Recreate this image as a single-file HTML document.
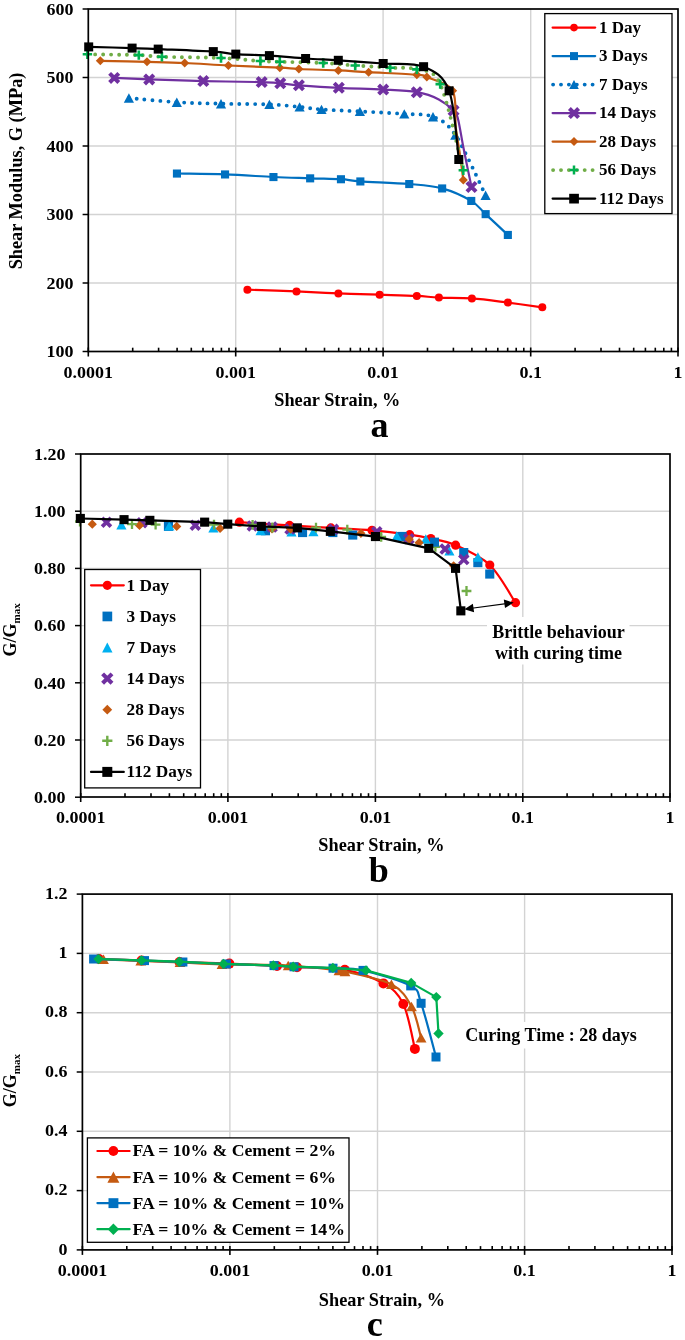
<!DOCTYPE html>
<html><head><meta charset="utf-8"><title>chart</title>
<style>html,body{margin:0;padding:0;background:#fff;}svg{display:block;will-change:transform;}</style></head><body>
<svg width="685" height="1340" viewBox="0 0 685 1340">
<rect width="685" height="1340" fill="#fff"/>
<line x1="235.7" y1="9" x2="235.7" y2="351.5" stroke="#d3d3d3" stroke-width="1.4"/>
<line x1="383.1" y1="9" x2="383.1" y2="351.5" stroke="#d3d3d3" stroke-width="1.4"/>
<line x1="530.7" y1="9" x2="530.7" y2="351.5" stroke="#d3d3d3" stroke-width="1.4"/>
<line x1="88.3" y1="77.5" x2="678" y2="77.5" stroke="#d3d3d3" stroke-width="1.4"/>
<line x1="88.3" y1="146" x2="678" y2="146" stroke="#d3d3d3" stroke-width="1.4"/>
<line x1="88.3" y1="214.5" x2="678" y2="214.5" stroke="#d3d3d3" stroke-width="1.4"/>
<line x1="88.3" y1="283" x2="678" y2="283" stroke="#d3d3d3" stroke-width="1.4"/>
<path d="M247.4,289.7 C255.6,290 281.3,290.8 296.5,291.4 C311.7,292 324.5,292.8 338.4,293.4 C352.2,293.9 366.5,294.3 379.6,294.7 C392.7,295.1 406.9,295.4 416.8,295.9 C426.7,296.4 429.7,297.2 438.9,297.6 C448.1,298 460.4,297.6 471.9,298.4 C483.4,299.2 496.2,301.1 507.9,302.6 C519.6,304.1 536.6,306.5 542.3,307.3" fill="none" stroke="#ff0000" stroke-width="2.2" stroke-linejoin="round" stroke-linecap="round"/>
<circle cx="247.4" cy="289.7" r="4" fill="#ff0000"/>
<circle cx="296.5" cy="291.4" r="4" fill="#ff0000"/>
<circle cx="338.4" cy="293.4" r="4" fill="#ff0000"/>
<circle cx="379.6" cy="294.7" r="4" fill="#ff0000"/>
<circle cx="416.8" cy="295.9" r="4" fill="#ff0000"/>
<circle cx="438.9" cy="297.6" r="4" fill="#ff0000"/>
<circle cx="471.9" cy="298.4" r="4" fill="#ff0000"/>
<circle cx="507.9" cy="302.6" r="4" fill="#ff0000"/>
<circle cx="542.3" cy="307.3" r="4" fill="#ff0000"/>
<path d="M176.9,173.5 C184.9,173.7 208.9,173.8 225,174.4 C241.1,175 259.2,176.3 273.4,177 C287.6,177.7 298.9,177.9 310.1,178.3 C321.4,178.7 332.5,178.7 340.9,179.2 C349.3,179.7 348.9,180.6 360.3,181.4 C371.7,182.2 395.6,182.8 409.2,184 C422.8,185.2 431.8,185.6 442.1,188.4 C452.4,191.2 463.9,196.6 471.2,200.9 C478.4,205.2 479.5,208.4 485.6,214.1 C491.7,219.8 504.1,231.4 507.8,234.9" fill="none" stroke="#0070c0" stroke-width="2.2" stroke-linejoin="round" stroke-linecap="round"/>
<rect x="172.9" y="169.5" width="8.1" height="8.1" fill="#0070c0"/>
<rect x="221" y="170.4" width="8.1" height="8.1" fill="#0070c0"/>
<rect x="269.4" y="173" width="8.1" height="8.1" fill="#0070c0"/>
<rect x="306.1" y="174.3" width="8.1" height="8.1" fill="#0070c0"/>
<rect x="336.9" y="175.2" width="8.1" height="8.1" fill="#0070c0"/>
<rect x="356.3" y="177.4" width="8.1" height="8.1" fill="#0070c0"/>
<rect x="405.2" y="180" width="8.1" height="8.1" fill="#0070c0"/>
<rect x="438.1" y="184.4" width="8.1" height="8.1" fill="#0070c0"/>
<rect x="467.2" y="196.9" width="8.1" height="8.1" fill="#0070c0"/>
<rect x="481.6" y="210.1" width="8.1" height="8.1" fill="#0070c0"/>
<rect x="503.8" y="230.9" width="8.1" height="8.1" fill="#0070c0"/>
<path d="M128.9,98 C136.9,98.7 161.5,101.2 176.8,102.2 C192.2,103.2 205.6,103.3 221,103.7 C236.4,104.1 256.3,103.9 269.4,104.4 C282.5,104.9 290.9,106.1 299.6,106.9 C308.3,107.7 311.4,108.7 321.5,109.4 C331.6,110.2 346.1,110.7 359.9,111.4 C373.7,112.2 392.1,113 404.3,113.9 C416.5,114.8 424.5,113.3 433,116.8 C441.5,120.3 446.5,121.9 455.3,135 C464.1,148.1 480.6,185.2 485.6,195.2" fill="none" stroke="#0070c0" stroke-width="3.9" stroke-linejoin="round" stroke-dasharray="0 7.9" stroke-linecap="round"/>
<path d="M128.9,93.3 L134,102.7 L123.8,102.7 Z" fill="#0070c0"/>
<path d="M176.8,97.5 L181.9,106.9 L171.7,106.9 Z" fill="#0070c0"/>
<path d="M221,99 L226.1,108.4 L215.9,108.4 Z" fill="#0070c0"/>
<path d="M269.4,99.7 L274.5,109.1 L264.3,109.1 Z" fill="#0070c0"/>
<path d="M299.6,102.2 L304.7,111.6 L294.5,111.6 Z" fill="#0070c0"/>
<path d="M321.5,104.7 L326.6,114.1 L316.4,114.1 Z" fill="#0070c0"/>
<path d="M359.9,106.7 L365,116.1 L354.8,116.1 Z" fill="#0070c0"/>
<path d="M404.3,109.2 L409.4,118.6 L399.2,118.6 Z" fill="#0070c0"/>
<path d="M433,112.1 L438.1,121.5 L427.9,121.5 Z" fill="#0070c0"/>
<path d="M455.3,130.3 L460.4,139.7 L450.2,139.7 Z" fill="#0070c0"/>
<path d="M485.6,190.5 L490.7,199.9 L480.5,199.9 Z" fill="#0070c0"/>
<path d="M114.2,77.9 C120,78.2 134.3,78.9 149.2,79.4 C164,79.9 184.6,80.6 203.3,81.1 C222.1,81.5 248.9,81.7 261.7,82.1 C274.5,82.5 274.1,82.8 280.3,83.3 C286.5,83.8 289.1,84.5 298.9,85.3 C308.6,86 324.8,87.1 338.8,87.8 C352.9,88.5 370.2,88.9 383.2,89.6 C396.2,90.3 407.5,90.6 416.8,92.2 C426.1,93.8 432.7,96.3 438.8,99.4 C444.9,102.5 450.4,107.3 453.6,110.6 C456.8,113.9 456.3,112.6 458,119 C459.7,125.4 461.4,137.7 463.7,149 C465.9,160.3 470.2,180.7 471.5,187" fill="none" stroke="#7030a0" stroke-width="2.2" stroke-linejoin="round" stroke-linecap="round"/>
<path d="M109.6,73.3 L118.8,82.5 M109.6,82.5 L118.8,73.3" stroke="#7030a0" stroke-width="4" fill="none"/>
<path d="M144.6,74.8 L153.8,84 M144.6,84 L153.8,74.8" stroke="#7030a0" stroke-width="4" fill="none"/>
<path d="M198.7,76.5 L207.9,85.7 M198.7,85.7 L207.9,76.5" stroke="#7030a0" stroke-width="4" fill="none"/>
<path d="M257.1,77.5 L266.3,86.7 M257.1,86.7 L266.3,77.5" stroke="#7030a0" stroke-width="4" fill="none"/>
<path d="M275.7,78.7 L284.9,87.9 M275.7,87.9 L284.9,78.7" stroke="#7030a0" stroke-width="4" fill="none"/>
<path d="M294.3,80.7 L303.5,89.9 M294.3,89.9 L303.5,80.7" stroke="#7030a0" stroke-width="4" fill="none"/>
<path d="M334.2,83.2 L343.4,92.4 M334.2,92.4 L343.4,83.2" stroke="#7030a0" stroke-width="4" fill="none"/>
<path d="M378.6,85 L387.8,94.2 M378.6,94.2 L387.8,85" stroke="#7030a0" stroke-width="4" fill="none"/>
<path d="M412.2,87.6 L421.4,96.8 M412.2,96.8 L421.4,87.6" stroke="#7030a0" stroke-width="4" fill="none"/>
<path d="M449,106 L458.2,115.2 M449,115.2 L458.2,106" stroke="#7030a0" stroke-width="4" fill="none"/>
<path d="M466.9,182.4 L476.1,191.6 M466.9,191.6 L476.1,182.4" stroke="#7030a0" stroke-width="4" fill="none"/>
<path d="M100.3,60.8 C108.1,61 132.9,61.4 147,61.8 C161.1,62.2 171.1,62.4 184.7,63 C198.3,63.6 212.6,64.7 228.4,65.5 C244.2,66.3 268.1,67.1 279.8,67.7 C291.6,68.3 289.1,68.5 298.9,69 C308.6,69.5 326.7,69.9 338.3,70.4 C349.9,70.9 355.5,71.5 368.6,72.2 C381.7,72.9 407.1,73.9 416.8,74.7 C426.5,75.5 420.8,74.4 426.8,77.1 C432.8,79.8 447.8,82.4 452.6,90.8 C457.4,99.2 454.5,116.6 455.8,127.6 C457.1,138.6 459.1,148.1 460.3,156.8 C461.6,165.5 462.8,176.1 463.3,180" fill="none" stroke="#c55a11" stroke-width="2.2" stroke-linejoin="round" stroke-linecap="round"/>
<path d="M100.3,56.3 L104.8,60.8 L100.3,65.3 L95.8,60.8 Z" fill="#c55a11"/>
<path d="M147,57.3 L151.5,61.8 L147,66.3 L142.5,61.8 Z" fill="#c55a11"/>
<path d="M184.7,58.5 L189.2,63 L184.7,67.5 L180.2,63 Z" fill="#c55a11"/>
<path d="M228.4,61 L232.9,65.5 L228.4,70 L223.9,65.5 Z" fill="#c55a11"/>
<path d="M279.8,63.2 L284.3,67.7 L279.8,72.2 L275.3,67.7 Z" fill="#c55a11"/>
<path d="M298.9,64.5 L303.4,69 L298.9,73.5 L294.4,69 Z" fill="#c55a11"/>
<path d="M338.3,65.9 L342.8,70.4 L338.3,74.9 L333.8,70.4 Z" fill="#c55a11"/>
<path d="M368.6,67.7 L373.1,72.2 L368.6,76.7 L364.1,72.2 Z" fill="#c55a11"/>
<path d="M416.8,70.2 L421.3,74.7 L416.8,79.2 L412.3,74.7 Z" fill="#c55a11"/>
<path d="M426.8,72.6 L431.3,77.1 L426.8,81.6 L422.3,77.1 Z" fill="#c55a11"/>
<path d="M452.6,86.3 L457.1,90.8 L452.6,95.3 L448.1,90.8 Z" fill="#c55a11"/>
<path d="M463.3,175.5 L467.8,180 L463.3,184.5 L458.8,180 Z" fill="#c55a11"/>
<path d="M87.4,54.3 C96,54.4 126.4,54.7 138.8,55.1 C151.2,55.5 148.2,56.3 161.9,56.8 C175.6,57.3 204.6,57.3 221,58 C237.4,58.7 250.6,60.4 260.4,61 C270.2,61.6 269.3,61.5 279.8,61.8 C290.3,62.1 310.6,62.4 323.2,63 C335.8,63.6 344,64.7 355.2,65.5 C366.4,66.3 379.9,67 390.2,67.7 C400.5,68.4 408.5,66.7 416.8,69.4 C425.1,72.1 432.4,67.3 440.2,84.1 C447.9,100.9 459.4,155.8 463.3,170.2" fill="none" stroke="#70ad47" stroke-width="3.9" stroke-linejoin="round" stroke-dasharray="0 7.9" stroke-linecap="round"/>
<path d="M82.7,54.3 L92.1,54.3 M87.4,49.6 L87.4,59" stroke="#00b050" stroke-width="2.6" fill="none"/>
<path d="M134.1,55.1 L143.5,55.1 M138.8,50.4 L138.8,59.8" stroke="#00b050" stroke-width="2.6" fill="none"/>
<path d="M157.2,56.8 L166.6,56.8 M161.9,52.1 L161.9,61.5" stroke="#00b050" stroke-width="2.6" fill="none"/>
<path d="M216.3,58 L225.7,58 M221,53.3 L221,62.7" stroke="#00b050" stroke-width="2.6" fill="none"/>
<path d="M255.7,61 L265.1,61 M260.4,56.3 L260.4,65.7" stroke="#00b050" stroke-width="2.6" fill="none"/>
<path d="M275.1,61.8 L284.5,61.8 M279.8,57.1 L279.8,66.5" stroke="#00b050" stroke-width="2.6" fill="none"/>
<path d="M318.5,63 L327.9,63 M323.2,58.3 L323.2,67.7" stroke="#00b050" stroke-width="2.6" fill="none"/>
<path d="M350.5,65.5 L359.9,65.5 M355.2,60.8 L355.2,70.2" stroke="#00b050" stroke-width="2.6" fill="none"/>
<path d="M385.5,67.7 L394.9,67.7 M390.2,63 L390.2,72.4" stroke="#00b050" stroke-width="2.6" fill="none"/>
<path d="M412.1,69.4 L421.5,69.4 M416.8,64.7 L416.8,74.1" stroke="#00b050" stroke-width="2.6" fill="none"/>
<path d="M435.5,84.1 L444.9,84.1 M440.2,79.4 L440.2,88.8" stroke="#00b050" stroke-width="2.6" fill="none"/>
<path d="M458.6,170.2 L468,170.2 M463.3,165.5 L463.3,174.9" stroke="#00b050" stroke-width="2.6" fill="none"/>
<path d="M88.7,46.9 C95.9,47.1 120.5,47.7 132.1,48.1 C143.7,48.5 144.7,48.5 158.2,49.1 C171.7,49.7 200.4,50.8 213.3,51.6 C226.2,52.4 226.5,53.4 235.8,54.1 C245.2,54.8 257.8,54.9 269.4,55.6 C281,56.3 294.1,57.7 305.6,58.5 C317.1,59.3 325.4,59.5 338.3,60.3 C351.2,61.1 369,62.4 383.2,63.5 C397.4,64.6 412.6,62.2 423.6,66.7 C434.6,71.2 443.2,75.3 449.1,90.8 C455,106.3 457.2,148.1 458.8,159.5" fill="none" stroke="#000000" stroke-width="2.2" stroke-linejoin="round" stroke-linecap="round"/>
<rect x="84.2" y="42.4" width="9" height="9" fill="#000000"/>
<rect x="127.6" y="43.6" width="9" height="9" fill="#000000"/>
<rect x="153.7" y="44.6" width="9" height="9" fill="#000000"/>
<rect x="208.8" y="47.1" width="9" height="9" fill="#000000"/>
<rect x="231.3" y="49.6" width="9" height="9" fill="#000000"/>
<rect x="264.9" y="51.1" width="9" height="9" fill="#000000"/>
<rect x="301.1" y="54" width="9" height="9" fill="#000000"/>
<rect x="333.8" y="55.8" width="9" height="9" fill="#000000"/>
<rect x="378.7" y="59" width="9" height="9" fill="#000000"/>
<rect x="419.1" y="62.2" width="9" height="9" fill="#000000"/>
<rect x="444.6" y="86.3" width="9" height="9" fill="#000000"/>
<rect x="454.3" y="155" width="9" height="9" fill="#000000"/>
<rect x="88.3" y="9" width="589.7" height="342.5" fill="none" stroke="#000" stroke-width="1.7"/>
<line x1="82.6" y1="9" x2="88.3" y2="9" stroke="#000" stroke-width="1.5"/>
<text transform="translate(73.5,14.8) scale(1.035,1)" font-size="17.4" text-anchor="end" font-family="Liberation Serif, serif" font-weight="bold">600</text>
<line x1="82.6" y1="77.5" x2="88.3" y2="77.5" stroke="#000" stroke-width="1.5"/>
<text transform="translate(73.5,83.3) scale(1.035,1)" font-size="17.4" text-anchor="end" font-family="Liberation Serif, serif" font-weight="bold">500</text>
<line x1="82.6" y1="146" x2="88.3" y2="146" stroke="#000" stroke-width="1.5"/>
<text transform="translate(73.5,151.8) scale(1.035,1)" font-size="17.4" text-anchor="end" font-family="Liberation Serif, serif" font-weight="bold">400</text>
<line x1="82.6" y1="214.5" x2="88.3" y2="214.5" stroke="#000" stroke-width="1.5"/>
<text transform="translate(73.5,220.3) scale(1.035,1)" font-size="17.4" text-anchor="end" font-family="Liberation Serif, serif" font-weight="bold">300</text>
<line x1="82.6" y1="283" x2="88.3" y2="283" stroke="#000" stroke-width="1.5"/>
<text transform="translate(73.5,288.8) scale(1.035,1)" font-size="17.4" text-anchor="end" font-family="Liberation Serif, serif" font-weight="bold">200</text>
<line x1="82.6" y1="351.5" x2="88.3" y2="351.5" stroke="#000" stroke-width="1.5"/>
<text transform="translate(73.5,357.3) scale(1.035,1)" font-size="17.4" text-anchor="end" font-family="Liberation Serif, serif" font-weight="bold">100</text>
<line x1="88.3" y1="347.5" x2="88.3" y2="356.5" stroke="#000" stroke-width="1.6"/>
<text transform="translate(88.3,377.8) scale(1.035,1)" font-size="17.4" text-anchor="middle" font-family="Liberation Serif, serif" font-weight="bold">0.0001</text>
<line x1="132.7" y1="347.7" x2="132.7" y2="351.5" stroke="#000" stroke-width="1.6"/>
<line x1="158.6" y1="347.7" x2="158.6" y2="351.5" stroke="#000" stroke-width="1.6"/>
<line x1="177.1" y1="347.7" x2="177.1" y2="351.5" stroke="#000" stroke-width="1.6"/>
<line x1="191.3" y1="347.7" x2="191.3" y2="351.5" stroke="#000" stroke-width="1.6"/>
<line x1="203" y1="347.7" x2="203" y2="351.5" stroke="#000" stroke-width="1.6"/>
<line x1="212.9" y1="347.7" x2="212.9" y2="351.5" stroke="#000" stroke-width="1.6"/>
<line x1="221.4" y1="347.7" x2="221.4" y2="351.5" stroke="#000" stroke-width="1.6"/>
<line x1="229" y1="347.7" x2="229" y2="351.5" stroke="#000" stroke-width="1.6"/>
<line x1="235.7" y1="347.5" x2="235.7" y2="356.5" stroke="#000" stroke-width="1.6"/>
<text transform="translate(235.7,377.8) scale(1.035,1)" font-size="17.4" text-anchor="middle" font-family="Liberation Serif, serif" font-weight="bold">0.001</text>
<line x1="280.1" y1="347.7" x2="280.1" y2="351.5" stroke="#000" stroke-width="1.6"/>
<line x1="306" y1="347.7" x2="306" y2="351.5" stroke="#000" stroke-width="1.6"/>
<line x1="324.5" y1="347.7" x2="324.5" y2="351.5" stroke="#000" stroke-width="1.6"/>
<line x1="338.7" y1="347.7" x2="338.7" y2="351.5" stroke="#000" stroke-width="1.6"/>
<line x1="350.4" y1="347.7" x2="350.4" y2="351.5" stroke="#000" stroke-width="1.6"/>
<line x1="360.3" y1="347.7" x2="360.3" y2="351.5" stroke="#000" stroke-width="1.6"/>
<line x1="368.8" y1="347.7" x2="368.8" y2="351.5" stroke="#000" stroke-width="1.6"/>
<line x1="376.4" y1="347.7" x2="376.4" y2="351.5" stroke="#000" stroke-width="1.6"/>
<line x1="383.1" y1="347.5" x2="383.1" y2="356.5" stroke="#000" stroke-width="1.6"/>
<text transform="translate(383.1,377.8) scale(1.035,1)" font-size="17.4" text-anchor="middle" font-family="Liberation Serif, serif" font-weight="bold">0.01</text>
<line x1="427.5" y1="347.7" x2="427.5" y2="351.5" stroke="#000" stroke-width="1.6"/>
<line x1="453.4" y1="347.7" x2="453.4" y2="351.5" stroke="#000" stroke-width="1.6"/>
<line x1="471.9" y1="347.7" x2="471.9" y2="351.5" stroke="#000" stroke-width="1.6"/>
<line x1="486.1" y1="347.7" x2="486.1" y2="351.5" stroke="#000" stroke-width="1.6"/>
<line x1="497.8" y1="347.7" x2="497.8" y2="351.5" stroke="#000" stroke-width="1.6"/>
<line x1="507.7" y1="347.7" x2="507.7" y2="351.5" stroke="#000" stroke-width="1.6"/>
<line x1="516.2" y1="347.7" x2="516.2" y2="351.5" stroke="#000" stroke-width="1.6"/>
<line x1="523.8" y1="347.7" x2="523.8" y2="351.5" stroke="#000" stroke-width="1.6"/>
<line x1="530.7" y1="347.5" x2="530.7" y2="356.5" stroke="#000" stroke-width="1.6"/>
<text transform="translate(530.7,377.8) scale(1.035,1)" font-size="17.4" text-anchor="middle" font-family="Liberation Serif, serif" font-weight="bold">0.1</text>
<line x1="575.1" y1="347.7" x2="575.1" y2="351.5" stroke="#000" stroke-width="1.6"/>
<line x1="601" y1="347.7" x2="601" y2="351.5" stroke="#000" stroke-width="1.6"/>
<line x1="619.5" y1="347.7" x2="619.5" y2="351.5" stroke="#000" stroke-width="1.6"/>
<line x1="633.7" y1="347.7" x2="633.7" y2="351.5" stroke="#000" stroke-width="1.6"/>
<line x1="645.4" y1="347.7" x2="645.4" y2="351.5" stroke="#000" stroke-width="1.6"/>
<line x1="655.3" y1="347.7" x2="655.3" y2="351.5" stroke="#000" stroke-width="1.6"/>
<line x1="663.8" y1="347.7" x2="663.8" y2="351.5" stroke="#000" stroke-width="1.6"/>
<line x1="671.4" y1="347.7" x2="671.4" y2="351.5" stroke="#000" stroke-width="1.6"/>
<line x1="678" y1="347.5" x2="678" y2="356.5" stroke="#000" stroke-width="1.6"/>
<text transform="translate(678,377.8) scale(1.035,1)" font-size="17.4" text-anchor="middle" font-family="Liberation Serif, serif" font-weight="bold">1</text>
<rect x="544.8" y="13.6" width="127.2" height="200" fill="#fff" stroke="#000" stroke-width="1.3"/>
<path d="M552.6,27.6 L595.2,27.6" fill="none" stroke="#ff0000" stroke-width="2.2" stroke-linejoin="round" stroke-linecap="round"/>
<circle cx="574" cy="27.6" r="3.8" fill="#ff0000"/>
<path d="M552.6,56.1 L595.2,56.1" fill="none" stroke="#0070c0" stroke-width="2.2" stroke-linejoin="round" stroke-linecap="round"/>
<rect x="570" y="52.1" width="8" height="8" fill="#0070c0"/>
<path d="M553.1,84.6 L595.2,84.6" fill="none" stroke="#0070c0" stroke-width="3.9" stroke-linejoin="round" stroke-dasharray="0 7.9" stroke-linecap="round"/>
<path d="M574,80.1 L578.8,89.1 L569.2,89.1 Z" fill="#0070c0"/>
<path d="M552.6,113.1 L595.2,113.1" fill="none" stroke="#7030a0" stroke-width="2.2" stroke-linejoin="round" stroke-linecap="round"/>
<path d="M569.4,108.5 L578.6,117.7 M569.4,117.7 L578.6,108.5" stroke="#7030a0" stroke-width="4" fill="none"/>
<path d="M552.6,141.6 L595.2,141.6" fill="none" stroke="#c55a11" stroke-width="2.2" stroke-linejoin="round" stroke-linecap="round"/>
<path d="M574,137.1 L578.5,141.6 L574,146.1 L569.5,141.6 Z" fill="#c55a11"/>
<path d="M553.1,170.1 L595.2,170.1" fill="none" stroke="#70ad47" stroke-width="3.9" stroke-linejoin="round" stroke-dasharray="0 7.9" stroke-linecap="round"/>
<path d="M569.5,170.1 L578.5,170.1 M574,165.6 L574,174.6" stroke="#00b050" stroke-width="2.5" fill="none"/>
<path d="M552.6,198.6 L595.2,198.6" fill="none" stroke="#000000" stroke-width="2.2" stroke-linejoin="round" stroke-linecap="round"/>
<rect x="569.2" y="193.8" width="9.7" height="9.7" fill="#000000"/>
<text x="599" y="32.9" font-size="17" text-anchor="start" font-family="Liberation Serif, serif" font-weight="bold" >1 Day</text>
<text x="599" y="61.4" font-size="17" text-anchor="start" font-family="Liberation Serif, serif" font-weight="bold" >3 Days</text>
<text x="599" y="89.9" font-size="17" text-anchor="start" font-family="Liberation Serif, serif" font-weight="bold" >7 Days</text>
<text x="599" y="118.4" font-size="17" text-anchor="start" font-family="Liberation Serif, serif" font-weight="bold" >14 Days</text>
<text x="599" y="146.9" font-size="17" text-anchor="start" font-family="Liberation Serif, serif" font-weight="bold" >28 Days</text>
<text x="599" y="175.4" font-size="17" text-anchor="start" font-family="Liberation Serif, serif" font-weight="bold" >56 Days</text>
<text x="599" y="203.9" font-size="17" text-anchor="start" font-family="Liberation Serif, serif" font-weight="bold" >112 Days</text>
<text x="337.3" y="405.6" font-size="18.3" text-anchor="middle" font-family="Liberation Serif, serif" font-weight="bold" >Shear Strain, %</text>
<text x="379.5" y="437.3" font-size="36" text-anchor="middle" font-family="Liberation Serif, serif" font-weight="bold" >a</text>
<text transform="translate(22.4,171) rotate(-90)" font-size="18.3" text-anchor="middle" font-family="Liberation Serif, serif" font-weight="bold">Shear Modulus, G (MPa)</text>
<line x1="227.9" y1="454" x2="227.9" y2="797" stroke="#d3d3d3" stroke-width="1.4"/>
<line x1="375.4" y1="454" x2="375.4" y2="797" stroke="#d3d3d3" stroke-width="1.4"/>
<line x1="522.8" y1="454" x2="522.8" y2="797" stroke="#d3d3d3" stroke-width="1.4"/>
<line x1="80.7" y1="511.2" x2="670" y2="511.2" stroke="#d3d3d3" stroke-width="1.4"/>
<line x1="80.7" y1="568.4" x2="670" y2="568.4" stroke="#d3d3d3" stroke-width="1.4"/>
<line x1="80.7" y1="625.6" x2="670" y2="625.6" stroke="#d3d3d3" stroke-width="1.4"/>
<line x1="80.7" y1="682.8" x2="670" y2="682.8" stroke="#d3d3d3" stroke-width="1.4"/>
<line x1="80.7" y1="740" x2="670" y2="740" stroke="#d3d3d3" stroke-width="1.4"/>
<path d="M239.4,522.2 C247.8,522.7 274.2,524.5 289.5,525.4 C304.8,526.3 317.1,527.1 330.9,527.9 C344.6,528.7 358.9,529.2 372,530.3 C385.1,531.4 399.9,533.3 409.7,534.7 C419.5,536.1 423.1,536.8 430.8,538.5 C438.5,540.2 445.8,540.8 455.6,545.2 C465.4,549.6 479.8,555.4 489.8,565 C499.8,574.6 511.2,596.4 515.5,602.7" fill="none" stroke="#ff0000" stroke-width="2.2" stroke-linejoin="round" stroke-linecap="round"/>
<circle cx="239.4" cy="522.2" r="4.6" fill="#ff0000"/>
<circle cx="289.5" cy="525.4" r="4.6" fill="#ff0000"/>
<circle cx="330.9" cy="527.9" r="4.6" fill="#ff0000"/>
<circle cx="372" cy="530.3" r="4.6" fill="#ff0000"/>
<circle cx="409.7" cy="534.7" r="4.6" fill="#ff0000"/>
<circle cx="430.8" cy="538.5" r="4.6" fill="#ff0000"/>
<circle cx="455.6" cy="545.2" r="4.6" fill="#ff0000"/>
<circle cx="489.8" cy="565" r="4.6" fill="#ff0000"/>
<circle cx="515.5" cy="602.7" r="4.6" fill="#ff0000"/>
<path d="M430.5,546.8 L440.3,546.8 M435.4,541.9 L435.4,551.7" stroke="#70ad47" stroke-width="2.3" fill="none"/>
<rect x="163.9" y="521.8" width="9.1" height="9.1" fill="#0070c0"/>
<rect x="260.9" y="526.2" width="9.1" height="9.1" fill="#0070c0"/>
<rect x="298" y="528" width="9.1" height="9.1" fill="#0070c0"/>
<rect x="328.3" y="528" width="9.1" height="9.1" fill="#0070c0"/>
<rect x="348.2" y="530.5" width="9.1" height="9.1" fill="#0070c0"/>
<rect x="397.6" y="531.9" width="9.1" height="9.1" fill="#0070c0"/>
<rect x="429.9" y="537.6" width="9.1" height="9.1" fill="#0070c0"/>
<rect x="459.2" y="548" width="9.1" height="9.1" fill="#0070c0"/>
<rect x="473.3" y="558.1" width="9.1" height="9.1" fill="#0070c0"/>
<rect x="485.2" y="569.5" width="9.1" height="9.1" fill="#0070c0"/>
<path d="M121.4,520 L126.5,529.4 L116.3,529.4 Z" fill="#00b0f0"/>
<path d="M169.3,521.2 L174.4,530.6 L164.2,530.6 Z" fill="#00b0f0"/>
<path d="M213.4,523.2 L218.5,532.6 L208.3,532.6 Z" fill="#00b0f0"/>
<path d="M260.6,525.9 L265.7,535.3 L255.5,535.3 Z" fill="#00b0f0"/>
<path d="M291.5,527.1 L296.6,536.5 L286.4,536.5 Z" fill="#00b0f0"/>
<path d="M313.4,526.9 L318.5,536.3 L308.3,536.3 Z" fill="#00b0f0"/>
<path d="M396.8,531.3 L401.9,540.7 L391.7,540.7 Z" fill="#00b0f0"/>
<path d="M425.8,534.3 L430.9,543.7 L420.7,543.7 Z" fill="#00b0f0"/>
<path d="M449.4,546.2 L454.5,555.6 L444.3,555.6 Z" fill="#00b0f0"/>
<path d="M477.9,552.3 L483,561.7 L472.8,561.7 Z" fill="#00b0f0"/>
<path d="M102.1,517.8 L110.9,526.6 M102.1,526.6 L110.9,517.8" stroke="#7030a0" stroke-width="3.8" fill="none"/>
<path d="M137.6,518.3 L146.4,527.1 M137.6,527.1 L146.4,518.3" stroke="#7030a0" stroke-width="3.8" fill="none"/>
<path d="M190.9,520.8 L199.7,529.6 M190.9,529.6 L199.7,520.8" stroke="#7030a0" stroke-width="3.8" fill="none"/>
<path d="M247.9,521.5 L256.7,530.3 M247.9,530.3 L256.7,521.5" stroke="#7030a0" stroke-width="3.8" fill="none"/>
<path d="M267.7,522.7 L276.5,531.5 M267.7,531.5 L276.5,522.7" stroke="#7030a0" stroke-width="3.8" fill="none"/>
<path d="M285.6,524.7 L294.4,533.5 M285.6,533.5 L294.4,524.7" stroke="#7030a0" stroke-width="3.8" fill="none"/>
<path d="M329.1,524.9 L337.9,533.7 M329.1,533.7 L337.9,524.9" stroke="#7030a0" stroke-width="3.8" fill="none"/>
<path d="M372.4,527.4 L381.2,536.2 M372.4,536.2 L381.2,527.4" stroke="#7030a0" stroke-width="3.8" fill="none"/>
<path d="M404.5,534.4 L413.3,543.2 M404.5,543.2 L413.3,534.4" stroke="#7030a0" stroke-width="3.8" fill="none"/>
<path d="M440.7,544.7 L449.5,553.5 M440.7,553.5 L449.5,544.7" stroke="#7030a0" stroke-width="3.8" fill="none"/>
<path d="M459.4,555.2 L468.2,564 M459.4,564 L468.2,555.2" stroke="#7030a0" stroke-width="3.8" fill="none"/>
<path d="M92.3,519.6 L96.9,524.2 L92.3,528.8 L87.7,524.2 Z" fill="#c55a11"/>
<path d="M139.5,520.8 L144.1,525.4 L139.5,530 L134.9,525.4 Z" fill="#c55a11"/>
<path d="M176.7,521.8 L181.3,526.4 L176.7,531 L172.1,526.4 Z" fill="#c55a11"/>
<path d="M220.1,523.8 L224.7,528.4 L220.1,533 L215.5,528.4 Z" fill="#c55a11"/>
<path d="M272,524.3 L276.6,528.9 L272,533.5 L267.4,528.9 Z" fill="#c55a11"/>
<path d="M290.7,524.5 L295.3,529.1 L290.7,533.7 L286.1,529.1 Z" fill="#c55a11"/>
<path d="M360.9,528.7 L365.5,533.3 L360.9,537.9 L356.3,533.3 Z" fill="#c55a11"/>
<path d="M409.2,534.6 L413.8,539.2 L409.2,543.8 L404.6,539.2 Z" fill="#c55a11"/>
<path d="M419.1,538.1 L423.7,542.7 L419.1,547.3 L414.5,542.7 Z" fill="#c55a11"/>
<path d="M453.6,561.2 L458.2,565.8 L453.6,570.4 L449,565.8 Z" fill="#c55a11"/>
<path d="M75.1,521.5 L84.9,521.5 M80,516.6 L80,526.4" stroke="#70ad47" stroke-width="2.3" fill="none"/>
<path d="M127.1,524.2 L136.9,524.2 M132,519.3 L132,529.1" stroke="#70ad47" stroke-width="2.3" fill="none"/>
<path d="M150.7,524.7 L160.5,524.7 M155.6,519.8 L155.6,529.6" stroke="#70ad47" stroke-width="2.3" fill="none"/>
<path d="M209.1,524.7 L218.9,524.7 M214,519.8 L214,529.6" stroke="#70ad47" stroke-width="2.3" fill="none"/>
<path d="M247.7,524.9 L257.5,524.9 M252.6,520 L252.6,529.8" stroke="#70ad47" stroke-width="2.3" fill="none"/>
<path d="M267.5,527.5 L277.3,527.5 M272.4,522.6 L272.4,532.4" stroke="#70ad47" stroke-width="2.3" fill="none"/>
<path d="M311.1,527.6 L320.9,527.6 M316,522.7 L316,532.5" stroke="#70ad47" stroke-width="2.3" fill="none"/>
<path d="M342.4,529.6 L352.2,529.6 M347.3,524.7 L347.3,534.5" stroke="#70ad47" stroke-width="2.3" fill="none"/>
<path d="M376.3,536.8 L386.1,536.8 M381.2,531.9 L381.2,541.7" stroke="#70ad47" stroke-width="2.3" fill="none"/>
<path d="M461.6,591 L471.4,591 M466.5,586.1 L466.5,595.9" stroke="#70ad47" stroke-width="2.3" fill="none"/>
<path d="M80.4,518.5 L124.1,519.7 L149.9,520.4 L204.7,522.2 L227.8,524.2 L261.4,526.4 L297.4,527.9 L330.4,531.4 L375.5,536.6 L428.8,548.4 L455.6,568.4 L460.9,610.9" fill="none" stroke="#000000" stroke-width="2.2" stroke-linejoin="round" stroke-linecap="round"/>
<rect x="75.8" y="513.9" width="9.1" height="9.1" fill="#000000"/>
<rect x="119.5" y="515.1" width="9.1" height="9.1" fill="#000000"/>
<rect x="145.3" y="515.8" width="9.1" height="9.1" fill="#000000"/>
<rect x="200.1" y="517.6" width="9.1" height="9.1" fill="#000000"/>
<rect x="223.2" y="519.6" width="9.1" height="9.1" fill="#000000"/>
<rect x="256.8" y="521.8" width="9.1" height="9.1" fill="#000000"/>
<rect x="292.8" y="523.3" width="9.1" height="9.1" fill="#000000"/>
<rect x="325.8" y="526.8" width="9.1" height="9.1" fill="#000000"/>
<rect x="370.9" y="532" width="9.1" height="9.1" fill="#000000"/>
<rect x="424.2" y="543.8" width="9.1" height="9.1" fill="#000000"/>
<rect x="451" y="563.8" width="9.1" height="9.1" fill="#000000"/>
<rect x="456.3" y="606.3" width="9.1" height="9.1" fill="#000000"/>
<line x1="468" y1="608.7" x2="510" y2="603.1" stroke="#000" stroke-width="1.1"/>
<path d="M513.6,602.6 L505,608.1 L503.8,599.6 Z" fill="#000"/>
<path d="M464.3,609.3 L472.9,603.8 L474.1,612.3 Z" fill="#000"/>
<rect x="487" y="617" width="142.5" height="47.5" fill="#fff"/>
<text x="558.6" y="637.7" font-size="18" text-anchor="middle" font-family="Liberation Serif, serif" font-weight="bold" >Brittle behaviour</text>
<text x="558.6" y="658.9" font-size="18" text-anchor="middle" font-family="Liberation Serif, serif" font-weight="bold" >with curing time</text>
<rect x="80.7" y="454" width="589.3" height="343" fill="none" stroke="#000" stroke-width="1.7"/>
<line x1="75" y1="454" x2="80.7" y2="454" stroke="#000" stroke-width="1.5"/>
<text transform="translate(65.4,459.8) scale(1.035,1)" font-size="17.4" text-anchor="end" font-family="Liberation Serif, serif" font-weight="bold">1.20</text>
<line x1="75" y1="511.2" x2="80.7" y2="511.2" stroke="#000" stroke-width="1.5"/>
<text transform="translate(65.4,517) scale(1.035,1)" font-size="17.4" text-anchor="end" font-family="Liberation Serif, serif" font-weight="bold">1.00</text>
<line x1="75" y1="568.4" x2="80.7" y2="568.4" stroke="#000" stroke-width="1.5"/>
<text transform="translate(65.4,574.2) scale(1.035,1)" font-size="17.4" text-anchor="end" font-family="Liberation Serif, serif" font-weight="bold">0.80</text>
<line x1="75" y1="625.6" x2="80.7" y2="625.6" stroke="#000" stroke-width="1.5"/>
<text transform="translate(65.4,631.4) scale(1.035,1)" font-size="17.4" text-anchor="end" font-family="Liberation Serif, serif" font-weight="bold">0.60</text>
<line x1="75" y1="682.8" x2="80.7" y2="682.8" stroke="#000" stroke-width="1.5"/>
<text transform="translate(65.4,688.6) scale(1.035,1)" font-size="17.4" text-anchor="end" font-family="Liberation Serif, serif" font-weight="bold">0.40</text>
<line x1="75" y1="740" x2="80.7" y2="740" stroke="#000" stroke-width="1.5"/>
<text transform="translate(65.4,745.8) scale(1.035,1)" font-size="17.4" text-anchor="end" font-family="Liberation Serif, serif" font-weight="bold">0.20</text>
<line x1="75" y1="797.2" x2="80.7" y2="797.2" stroke="#000" stroke-width="1.5"/>
<text transform="translate(65.4,803) scale(1.035,1)" font-size="17.4" text-anchor="end" font-family="Liberation Serif, serif" font-weight="bold">0.00</text>
<line x1="80.7" y1="793" x2="80.7" y2="802" stroke="#000" stroke-width="1.6"/>
<text transform="translate(80.7,823) scale(1.035,1)" font-size="17.4" text-anchor="middle" font-family="Liberation Serif, serif" font-weight="bold">0.0001</text>
<line x1="125" y1="793.2" x2="125" y2="797" stroke="#000" stroke-width="1.6"/>
<line x1="151" y1="793.2" x2="151" y2="797" stroke="#000" stroke-width="1.6"/>
<line x1="169.4" y1="793.2" x2="169.4" y2="797" stroke="#000" stroke-width="1.6"/>
<line x1="183.7" y1="793.2" x2="183.7" y2="797" stroke="#000" stroke-width="1.6"/>
<line x1="195.3" y1="793.2" x2="195.3" y2="797" stroke="#000" stroke-width="1.6"/>
<line x1="205.2" y1="793.2" x2="205.2" y2="797" stroke="#000" stroke-width="1.6"/>
<line x1="213.7" y1="793.2" x2="213.7" y2="797" stroke="#000" stroke-width="1.6"/>
<line x1="221.3" y1="793.2" x2="221.3" y2="797" stroke="#000" stroke-width="1.6"/>
<line x1="227.9" y1="793" x2="227.9" y2="802" stroke="#000" stroke-width="1.6"/>
<text transform="translate(227.9,823) scale(1.035,1)" font-size="17.4" text-anchor="middle" font-family="Liberation Serif, serif" font-weight="bold">0.001</text>
<line x1="272.2" y1="793.2" x2="272.2" y2="797" stroke="#000" stroke-width="1.6"/>
<line x1="298.2" y1="793.2" x2="298.2" y2="797" stroke="#000" stroke-width="1.6"/>
<line x1="316.6" y1="793.2" x2="316.6" y2="797" stroke="#000" stroke-width="1.6"/>
<line x1="330.9" y1="793.2" x2="330.9" y2="797" stroke="#000" stroke-width="1.6"/>
<line x1="342.5" y1="793.2" x2="342.5" y2="797" stroke="#000" stroke-width="1.6"/>
<line x1="352.4" y1="793.2" x2="352.4" y2="797" stroke="#000" stroke-width="1.6"/>
<line x1="360.9" y1="793.2" x2="360.9" y2="797" stroke="#000" stroke-width="1.6"/>
<line x1="368.5" y1="793.2" x2="368.5" y2="797" stroke="#000" stroke-width="1.6"/>
<line x1="375.4" y1="793" x2="375.4" y2="802" stroke="#000" stroke-width="1.6"/>
<text transform="translate(375.4,823) scale(1.035,1)" font-size="17.4" text-anchor="middle" font-family="Liberation Serif, serif" font-weight="bold">0.01</text>
<line x1="419.7" y1="793.2" x2="419.7" y2="797" stroke="#000" stroke-width="1.6"/>
<line x1="445.7" y1="793.2" x2="445.7" y2="797" stroke="#000" stroke-width="1.6"/>
<line x1="464.1" y1="793.2" x2="464.1" y2="797" stroke="#000" stroke-width="1.6"/>
<line x1="478.4" y1="793.2" x2="478.4" y2="797" stroke="#000" stroke-width="1.6"/>
<line x1="490" y1="793.2" x2="490" y2="797" stroke="#000" stroke-width="1.6"/>
<line x1="499.9" y1="793.2" x2="499.9" y2="797" stroke="#000" stroke-width="1.6"/>
<line x1="508.4" y1="793.2" x2="508.4" y2="797" stroke="#000" stroke-width="1.6"/>
<line x1="516" y1="793.2" x2="516" y2="797" stroke="#000" stroke-width="1.6"/>
<line x1="522.8" y1="793" x2="522.8" y2="802" stroke="#000" stroke-width="1.6"/>
<text transform="translate(522.8,823) scale(1.035,1)" font-size="17.4" text-anchor="middle" font-family="Liberation Serif, serif" font-weight="bold">0.1</text>
<line x1="567.1" y1="793.2" x2="567.1" y2="797" stroke="#000" stroke-width="1.6"/>
<line x1="593.1" y1="793.2" x2="593.1" y2="797" stroke="#000" stroke-width="1.6"/>
<line x1="611.5" y1="793.2" x2="611.5" y2="797" stroke="#000" stroke-width="1.6"/>
<line x1="625.8" y1="793.2" x2="625.8" y2="797" stroke="#000" stroke-width="1.6"/>
<line x1="637.4" y1="793.2" x2="637.4" y2="797" stroke="#000" stroke-width="1.6"/>
<line x1="647.3" y1="793.2" x2="647.3" y2="797" stroke="#000" stroke-width="1.6"/>
<line x1="655.8" y1="793.2" x2="655.8" y2="797" stroke="#000" stroke-width="1.6"/>
<line x1="663.4" y1="793.2" x2="663.4" y2="797" stroke="#000" stroke-width="1.6"/>
<line x1="670" y1="793" x2="670" y2="802" stroke="#000" stroke-width="1.6"/>
<text transform="translate(670,823) scale(1.035,1)" font-size="17.4" text-anchor="middle" font-family="Liberation Serif, serif" font-weight="bold">1</text>
<rect x="84.7" y="569.5" width="115.8" height="218.4" fill="#fff" stroke="#000" stroke-width="1.3"/>
<path d="M91,585.3 L123.8,585.3" fill="none" stroke="#ff0000" stroke-width="2.2" stroke-linejoin="round" stroke-linecap="round"/>
<circle cx="107.3" cy="585.3" r="4.6" fill="#ff0000"/>
<rect x="102.5" y="611.6" width="9.7" height="9.7" fill="#0070c0"/>
<path d="M107.3,642.6 L112.5,652.4 L102.1,652.4 Z" fill="#00b0f0"/>
<path d="M102.6,673.9 L112,683.3 M102.6,683.3 L112,673.9" stroke="#7030a0" stroke-width="4.1" fill="none"/>
<path d="M107.3,704.8 L112.2,709.7 L107.3,714.6 L102.4,709.7 Z" fill="#c55a11"/>
<path d="M102.2,740.8 L112.4,740.8 M107.3,735.7 L107.3,745.9" stroke="#70ad47" stroke-width="2.4" fill="none"/>
<path d="M91,771.9 L123.8,771.9" fill="none" stroke="#000000" stroke-width="2.2" stroke-linejoin="round" stroke-linecap="round"/>
<rect x="102.3" y="766.9" width="10" height="10" fill="#000000"/>
<text x="126.5" y="590.6" font-size="17.3" text-anchor="start" font-family="Liberation Serif, serif" font-weight="bold" >1 Day</text>
<text x="126.5" y="621.7" font-size="17.3" text-anchor="start" font-family="Liberation Serif, serif" font-weight="bold" >3 Days</text>
<text x="126.5" y="652.8" font-size="17.3" text-anchor="start" font-family="Liberation Serif, serif" font-weight="bold" >7 Days</text>
<text x="126.5" y="683.9" font-size="17.3" text-anchor="start" font-family="Liberation Serif, serif" font-weight="bold" >14 Days</text>
<text x="126.5" y="715" font-size="17.3" text-anchor="start" font-family="Liberation Serif, serif" font-weight="bold" >28 Days</text>
<text x="126.5" y="746.1" font-size="17.3" text-anchor="start" font-family="Liberation Serif, serif" font-weight="bold" >56 Days</text>
<text x="126.5" y="777.2" font-size="17.3" text-anchor="start" font-family="Liberation Serif, serif" font-weight="bold" >112 Days</text>
<text x="381.4" y="851" font-size="18.3" text-anchor="middle" font-family="Liberation Serif, serif" font-weight="bold" >Shear Strain, %</text>
<text x="378.7" y="881.8" font-size="36" text-anchor="middle" font-family="Liberation Serif, serif" font-weight="bold" >b</text>
<text transform="translate(15.7,629.8) rotate(-90)" font-size="18" text-anchor="middle" font-family="Liberation Serif, serif" font-weight="bold">G/G<tspan font-size="11" dy="4">max</tspan></text>
<line x1="229.9" y1="894.1" x2="229.9" y2="1249.9" stroke="#d3d3d3" stroke-width="1.4"/>
<line x1="377.5" y1="894.1" x2="377.5" y2="1249.9" stroke="#d3d3d3" stroke-width="1.4"/>
<line x1="524.6" y1="894.1" x2="524.6" y2="1249.9" stroke="#d3d3d3" stroke-width="1.4"/>
<line x1="82.4" y1="953.4" x2="672" y2="953.4" stroke="#d3d3d3" stroke-width="1.4"/>
<line x1="82.4" y1="1012.7" x2="672" y2="1012.7" stroke="#d3d3d3" stroke-width="1.4"/>
<line x1="82.4" y1="1072" x2="672" y2="1072" stroke="#d3d3d3" stroke-width="1.4"/>
<line x1="82.4" y1="1131.3" x2="672" y2="1131.3" stroke="#d3d3d3" stroke-width="1.4"/>
<line x1="82.4" y1="1190.6" x2="672" y2="1190.6" stroke="#d3d3d3" stroke-width="1.4"/>
<rect x="460" y="1022" width="182" height="26.5" fill="#fff"/>
<path d="M99,959 C106.1,959.3 128.1,960.1 141.5,960.6 C154.9,961.1 164.9,961.5 179.5,962 C194.1,962.5 213.1,962.9 229.3,963.6 C245.6,964.3 265.7,965.4 277,966 C288.3,966.6 285.7,966.6 297,967.2 C308.3,967.8 330.4,967.1 344.8,969.8 C359.2,972.5 373.6,977.7 383.4,983.4 C393.1,989.1 398.1,993.1 403.3,1004 C408.6,1014.9 413,1041.4 414.9,1048.9" fill="none" stroke="#ff0000" stroke-width="2.2" stroke-linejoin="round" stroke-linecap="round"/>
<circle cx="99" cy="959" r="5" fill="#ff0000"/>
<circle cx="141.5" cy="960.6" r="5" fill="#ff0000"/>
<circle cx="179.5" cy="962" r="5" fill="#ff0000"/>
<circle cx="229.3" cy="963.6" r="5" fill="#ff0000"/>
<circle cx="277" cy="966" r="5" fill="#ff0000"/>
<circle cx="297" cy="967.2" r="5" fill="#ff0000"/>
<circle cx="344.8" cy="969.8" r="5" fill="#ff0000"/>
<circle cx="383.4" cy="983.4" r="5" fill="#ff0000"/>
<circle cx="403.3" cy="1004" r="5" fill="#ff0000"/>
<circle cx="414.9" cy="1048.9" r="5" fill="#ff0000"/>
<path d="M103.5,959.3 C109.7,959.6 128.1,960.4 140.8,960.9 C153.6,961.4 166.5,961.7 180,962.3 C193.5,962.9 204,963.8 222,964.3 C240,964.8 268.7,964.5 288.2,965.5 C307.7,966.5 329.5,969.5 339,970.5 C348.5,971.5 336.3,969.2 345,971.5 C353.7,973.8 380.3,978.4 391.4,984.2 C402.5,990 406.6,997.6 411.5,1006.5 C416.4,1015.4 419.5,1032.5 421.1,1037.7" fill="none" stroke="#c55a11" stroke-width="2.2" stroke-linejoin="round" stroke-linecap="round"/>
<path d="M103.5,954.6 L108.9,964 L98.1,964 Z" fill="#c55a11"/>
<path d="M140.8,956.2 L146.2,965.6 L135.4,965.6 Z" fill="#c55a11"/>
<path d="M180,957.6 L185.4,967 L174.6,967 Z" fill="#c55a11"/>
<path d="M222,959.6 L227.4,969 L216.6,969 Z" fill="#c55a11"/>
<path d="M288.2,960.8 L293.6,970.2 L282.8,970.2 Z" fill="#c55a11"/>
<path d="M339,965.8 L344.4,975.2 L333.6,975.2 Z" fill="#c55a11"/>
<path d="M345,966.8 L350.4,976.2 L339.6,976.2 Z" fill="#c55a11"/>
<path d="M391.4,979.5 L396.8,988.9 L386,988.9 Z" fill="#c55a11"/>
<path d="M411.5,1001.8 L416.9,1011.2 L406.1,1011.2 Z" fill="#c55a11"/>
<path d="M421.1,1033 L426.5,1042.4 L415.7,1042.4 Z" fill="#c55a11"/>
<path d="M93.6,959 C102.1,959.3 129.6,960.1 144.5,960.6 C159.4,961.1 169.2,961.4 182.9,962 C196.6,962.6 211.2,963.4 226.4,964 C241.6,964.6 262.7,965.1 274,965.6 C285.3,966.1 284.2,966.4 294,966.8 C303.8,967.2 321.5,967.6 333,968.2 C344.5,968.8 350.1,967.5 363,970.4 C375.9,973.3 401,980.4 410.7,985.9 C420.4,991.4 416.9,991.4 421.1,1003.3 C425.3,1015.1 433.5,1048 436,1057" fill="none" stroke="#0070c0" stroke-width="2.2" stroke-linejoin="round" stroke-linecap="round"/>
<rect x="89.1" y="954.5" width="9" height="9" fill="#0070c0"/>
<rect x="140" y="956.1" width="9" height="9" fill="#0070c0"/>
<rect x="178.4" y="957.5" width="9" height="9" fill="#0070c0"/>
<rect x="221.9" y="959.5" width="9" height="9" fill="#0070c0"/>
<rect x="269.5" y="961.1" width="9" height="9" fill="#0070c0"/>
<rect x="289.5" y="962.3" width="9" height="9" fill="#0070c0"/>
<rect x="328.5" y="963.7" width="9" height="9" fill="#0070c0"/>
<rect x="358.5" y="965.9" width="9" height="9" fill="#0070c0"/>
<rect x="406.2" y="981.4" width="9" height="9" fill="#0070c0"/>
<rect x="416.6" y="998.8" width="9" height="9" fill="#0070c0"/>
<rect x="431.5" y="1052.5" width="9" height="9" fill="#0070c0"/>
<path d="M98.6,959 L141.5,960.4 L179.2,961.7 L223.5,963.9 L273.3,965.4 L293.2,966.7 L332.9,967.9 L366,970.4 L411.2,982.9 L436.3,997.1 L438.5,1033.5" fill="none" stroke="#00b050" stroke-width="2.2" stroke-linejoin="round" stroke-linecap="round"/>
<path d="M98.6,953.8 L103.8,959 L98.6,964.2 L93.4,959 Z" fill="#00b050"/>
<path d="M141.5,955.2 L146.7,960.4 L141.5,965.6 L136.3,960.4 Z" fill="#00b050"/>
<path d="M179.2,956.5 L184.4,961.7 L179.2,966.9 L174,961.7 Z" fill="#00b050"/>
<path d="M223.5,958.7 L228.7,963.9 L223.5,969.1 L218.3,963.9 Z" fill="#00b050"/>
<path d="M273.3,960.2 L278.5,965.4 L273.3,970.6 L268.1,965.4 Z" fill="#00b050"/>
<path d="M293.2,961.5 L298.4,966.7 L293.2,971.9 L288,966.7 Z" fill="#00b050"/>
<path d="M332.9,962.7 L338.1,967.9 L332.9,973.1 L327.7,967.9 Z" fill="#00b050"/>
<path d="M366,965.2 L371.2,970.4 L366,975.6 L360.8,970.4 Z" fill="#00b050"/>
<path d="M411.2,977.7 L416.4,982.9 L411.2,988.1 L406,982.9 Z" fill="#00b050"/>
<path d="M436.3,991.9 L441.5,997.1 L436.3,1002.3 L431.1,997.1 Z" fill="#00b050"/>
<path d="M438.5,1028.3 L443.7,1033.5 L438.5,1038.7 L433.3,1033.5 Z" fill="#00b050"/>
<text x="551" y="1041.4" font-size="18" text-anchor="middle" font-family="Liberation Serif, serif" font-weight="bold" >Curing Time : 28 days</text>
<rect x="82.4" y="894.1" width="589.6" height="355.8" fill="none" stroke="#000" stroke-width="1.7"/>
<line x1="76.7" y1="894.1" x2="82.4" y2="894.1" stroke="#000" stroke-width="1.5"/>
<text transform="translate(67.6,898.7) scale(1.035,1)" font-size="17.4" text-anchor="end" font-family="Liberation Serif, serif" font-weight="bold">1.2</text>
<line x1="76.7" y1="953.4" x2="82.4" y2="953.4" stroke="#000" stroke-width="1.5"/>
<text transform="translate(67.6,958) scale(1.035,1)" font-size="17.4" text-anchor="end" font-family="Liberation Serif, serif" font-weight="bold">1</text>
<line x1="76.7" y1="1012.7" x2="82.4" y2="1012.7" stroke="#000" stroke-width="1.5"/>
<text transform="translate(67.6,1017.3) scale(1.035,1)" font-size="17.4" text-anchor="end" font-family="Liberation Serif, serif" font-weight="bold">0.8</text>
<line x1="76.7" y1="1072" x2="82.4" y2="1072" stroke="#000" stroke-width="1.5"/>
<text transform="translate(67.6,1076.6) scale(1.035,1)" font-size="17.4" text-anchor="end" font-family="Liberation Serif, serif" font-weight="bold">0.6</text>
<line x1="76.7" y1="1131.3" x2="82.4" y2="1131.3" stroke="#000" stroke-width="1.5"/>
<text transform="translate(67.6,1135.9) scale(1.035,1)" font-size="17.4" text-anchor="end" font-family="Liberation Serif, serif" font-weight="bold">0.4</text>
<line x1="76.7" y1="1190.6" x2="82.4" y2="1190.6" stroke="#000" stroke-width="1.5"/>
<text transform="translate(67.6,1195.2) scale(1.035,1)" font-size="17.4" text-anchor="end" font-family="Liberation Serif, serif" font-weight="bold">0.2</text>
<line x1="76.7" y1="1249.9" x2="82.4" y2="1249.9" stroke="#000" stroke-width="1.5"/>
<text transform="translate(67.6,1254.5) scale(1.035,1)" font-size="17.4" text-anchor="end" font-family="Liberation Serif, serif" font-weight="bold">0</text>
<line x1="82.4" y1="1245.9" x2="82.4" y2="1254.9" stroke="#000" stroke-width="1.6"/>
<text transform="translate(82.4,1276) scale(1.035,1)" font-size="17.4" text-anchor="middle" font-family="Liberation Serif, serif" font-weight="bold">0.0001</text>
<line x1="126.8" y1="1246.1" x2="126.8" y2="1249.9" stroke="#000" stroke-width="1.6"/>
<line x1="152.7" y1="1246.1" x2="152.7" y2="1249.9" stroke="#000" stroke-width="1.6"/>
<line x1="171.1" y1="1246.1" x2="171.1" y2="1249.9" stroke="#000" stroke-width="1.6"/>
<line x1="185.4" y1="1246.1" x2="185.4" y2="1249.9" stroke="#000" stroke-width="1.6"/>
<line x1="197.1" y1="1246.1" x2="197.1" y2="1249.9" stroke="#000" stroke-width="1.6"/>
<line x1="207" y1="1246.1" x2="207" y2="1249.9" stroke="#000" stroke-width="1.6"/>
<line x1="215.5" y1="1246.1" x2="215.5" y2="1249.9" stroke="#000" stroke-width="1.6"/>
<line x1="223.1" y1="1246.1" x2="223.1" y2="1249.9" stroke="#000" stroke-width="1.6"/>
<line x1="229.9" y1="1245.9" x2="229.9" y2="1254.9" stroke="#000" stroke-width="1.6"/>
<text transform="translate(229.9,1276) scale(1.035,1)" font-size="17.4" text-anchor="middle" font-family="Liberation Serif, serif" font-weight="bold">0.001</text>
<line x1="274.3" y1="1246.1" x2="274.3" y2="1249.9" stroke="#000" stroke-width="1.6"/>
<line x1="300.2" y1="1246.1" x2="300.2" y2="1249.9" stroke="#000" stroke-width="1.6"/>
<line x1="318.6" y1="1246.1" x2="318.6" y2="1249.9" stroke="#000" stroke-width="1.6"/>
<line x1="332.9" y1="1246.1" x2="332.9" y2="1249.9" stroke="#000" stroke-width="1.6"/>
<line x1="344.6" y1="1246.1" x2="344.6" y2="1249.9" stroke="#000" stroke-width="1.6"/>
<line x1="354.5" y1="1246.1" x2="354.5" y2="1249.9" stroke="#000" stroke-width="1.6"/>
<line x1="363" y1="1246.1" x2="363" y2="1249.9" stroke="#000" stroke-width="1.6"/>
<line x1="370.6" y1="1246.1" x2="370.6" y2="1249.9" stroke="#000" stroke-width="1.6"/>
<line x1="377.5" y1="1245.9" x2="377.5" y2="1254.9" stroke="#000" stroke-width="1.6"/>
<text transform="translate(377.5,1276) scale(1.035,1)" font-size="17.4" text-anchor="middle" font-family="Liberation Serif, serif" font-weight="bold">0.01</text>
<line x1="421.9" y1="1246.1" x2="421.9" y2="1249.9" stroke="#000" stroke-width="1.6"/>
<line x1="447.8" y1="1246.1" x2="447.8" y2="1249.9" stroke="#000" stroke-width="1.6"/>
<line x1="466.2" y1="1246.1" x2="466.2" y2="1249.9" stroke="#000" stroke-width="1.6"/>
<line x1="480.5" y1="1246.1" x2="480.5" y2="1249.9" stroke="#000" stroke-width="1.6"/>
<line x1="492.2" y1="1246.1" x2="492.2" y2="1249.9" stroke="#000" stroke-width="1.6"/>
<line x1="502.1" y1="1246.1" x2="502.1" y2="1249.9" stroke="#000" stroke-width="1.6"/>
<line x1="510.6" y1="1246.1" x2="510.6" y2="1249.9" stroke="#000" stroke-width="1.6"/>
<line x1="518.2" y1="1246.1" x2="518.2" y2="1249.9" stroke="#000" stroke-width="1.6"/>
<line x1="524.6" y1="1245.9" x2="524.6" y2="1254.9" stroke="#000" stroke-width="1.6"/>
<text transform="translate(524.6,1276) scale(1.035,1)" font-size="17.4" text-anchor="middle" font-family="Liberation Serif, serif" font-weight="bold">0.1</text>
<line x1="569" y1="1246.1" x2="569" y2="1249.9" stroke="#000" stroke-width="1.6"/>
<line x1="594.9" y1="1246.1" x2="594.9" y2="1249.9" stroke="#000" stroke-width="1.6"/>
<line x1="613.3" y1="1246.1" x2="613.3" y2="1249.9" stroke="#000" stroke-width="1.6"/>
<line x1="627.6" y1="1246.1" x2="627.6" y2="1249.9" stroke="#000" stroke-width="1.6"/>
<line x1="639.3" y1="1246.1" x2="639.3" y2="1249.9" stroke="#000" stroke-width="1.6"/>
<line x1="649.2" y1="1246.1" x2="649.2" y2="1249.9" stroke="#000" stroke-width="1.6"/>
<line x1="657.7" y1="1246.1" x2="657.7" y2="1249.9" stroke="#000" stroke-width="1.6"/>
<line x1="665.3" y1="1246.1" x2="665.3" y2="1249.9" stroke="#000" stroke-width="1.6"/>
<line x1="672" y1="1245.9" x2="672" y2="1254.9" stroke="#000" stroke-width="1.6"/>
<text transform="translate(672,1276) scale(1.035,1)" font-size="17.4" text-anchor="middle" font-family="Liberation Serif, serif" font-weight="bold">1</text>
<rect x="87.4" y="1137.9" width="261.6" height="104.4" fill="#fff" stroke="#000" stroke-width="1.3"/>
<path d="M97.4,1151 L129.6,1151" fill="none" stroke="#ff0000" stroke-width="2.2" stroke-linejoin="round" stroke-linecap="round"/>
<circle cx="113.4" cy="1151" r="4.9" fill="#ff0000"/>
<path d="M97.4,1177.1 L129.6,1177.1" fill="none" stroke="#c55a11" stroke-width="2.2" stroke-linejoin="round" stroke-linecap="round"/>
<path d="M113.4,1171.5 L119.4,1182.7 L107.4,1182.7 Z" fill="#c55a11"/>
<path d="M97.4,1203.1 L129.6,1203.1" fill="none" stroke="#0070c0" stroke-width="2.2" stroke-linejoin="round" stroke-linecap="round"/>
<rect x="108.5" y="1198.2" width="9.9" height="9.9" fill="#0070c0"/>
<path d="M97.4,1229.2 L129.6,1229.2" fill="none" stroke="#00b050" stroke-width="2.2" stroke-linejoin="round" stroke-linecap="round"/>
<path d="M113.4,1223.5 L119.1,1229.2 L113.4,1234.9 L107.7,1229.2 Z" fill="#00b050"/>
<text x="132.5" y="1156.4" font-size="17.7" text-anchor="start" font-family="Liberation Serif, serif" font-weight="bold" >FA = 10% &amp; Cement = 2%</text>
<text x="132.5" y="1182.5" font-size="17.7" text-anchor="start" font-family="Liberation Serif, serif" font-weight="bold" >FA = 10% &amp; Cement = 6%</text>
<text x="132.5" y="1208.5" font-size="17.7" text-anchor="start" font-family="Liberation Serif, serif" font-weight="bold" >FA = 10% &amp; Cement = 10%</text>
<text x="132.5" y="1234.6" font-size="17.7" text-anchor="start" font-family="Liberation Serif, serif" font-weight="bold" >FA = 10% &amp; Cement = 14%</text>
<text x="381.9" y="1306" font-size="18.3" text-anchor="middle" font-family="Liberation Serif, serif" font-weight="bold" >Shear Strain, %</text>
<text x="374.8" y="1336.3" font-size="36" text-anchor="middle" font-family="Liberation Serif, serif" font-weight="bold" >c</text>
<text transform="translate(16.2,1080.7) rotate(-90)" font-size="18" text-anchor="middle" font-family="Liberation Serif, serif" font-weight="bold">G/G<tspan font-size="11" dy="4">max</tspan></text>
</svg></body></html>
